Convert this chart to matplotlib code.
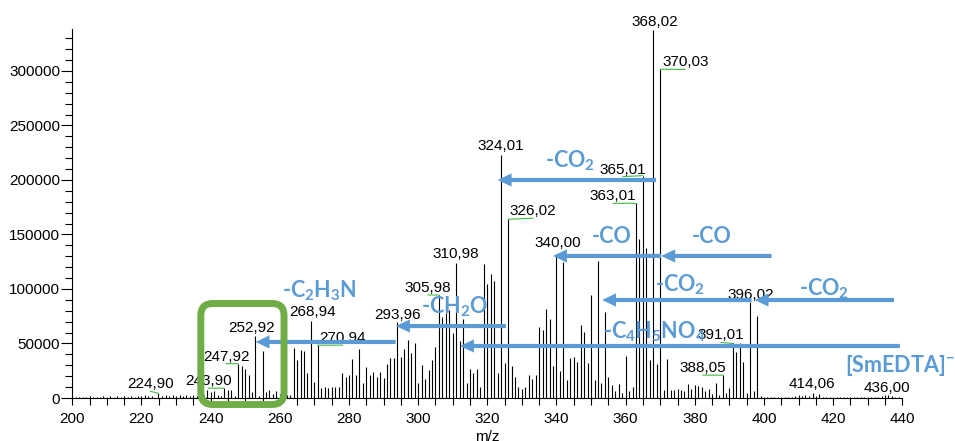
import matplotlib
matplotlib.use("Agg")
import matplotlib.pyplot as plt
from matplotlib.patches import FancyBboxPatch
from matplotlib.ticker import MultipleLocator

plt.rcParams['font.family'] = ['Liberation Sans', 'DejaVu Sans']
plt.rcParams['mathtext.fontset'] = 'custom'
plt.rcParams['mathtext.rm'] = 'Lato:bold'
plt.rcParams['mathtext.it'] = 'Lato:bold'
plt.rcParams['mathtext.bf'] = 'Lato:bold'

# peak list (m/z, intensity)
mz_low = [201, 202, 203, 204, 205, 206, 207, 208, 209, 210, 211, 212, 213, 214, 215,
          216, 217, 218, 219, 220, 221, 222, 223, 224.90, 226, 227, 228, 229, 230,
          231, 232, 233, 234, 235, 236, 237, 238]
int_low = [800, 600, 1200, 700, 1500, 900, 1300, 1000, 1800, 900, 1400, 1100, 2000, 1200, 1500,
           1000, 1700, 1300, 2200, 1400, 2500, 1600, 2000, 4300, 2000, 2800, 1600, 3200, 2200,
           2600, 1800, 2300, 1500, 2600, 1800, 3000, 2500]

mz_b = [239, 240, 241, 242, 243, 243.90, 245, 246, 247, 247.92, 249, 250, 251, 252, 252.92,
        254, 255, 256, 257, 258, 259, 260, 261, 262, 263, 264, 265, 266, 267, 268, 268.94,
        270, 270.94, 272, 273, 274, 275, 276, 277, 278, 279, 280, 281, 282, 283, 284, 285,
        286, 287, 288, 289, 290, 291, 292, 293, 293.96, 295, 296, 297, 298, 299]
int_b = [7000, 5500, 6400, 2500, 2000, 9000, 7600, 7000, 2000, 31500, 29000, 27000, 21000, 5500, 57000,
         2000, 43000, 5500, 7600, 4000, 6400, 4000, 10000, 2500, 3000, 45500, 35000, 44000, 43500, 23000, 70500,
         14500, 48500, 9000, 10000, 9500, 10000, 10000, 10000, 22600, 19600, 21000, 35800, 21000, 44600, 13500, 28700,
         21000, 23500, 19600, 23800, 18600, 30900, 36400, 37000, 70000, 38000, 44600, 53000, 41600, 50800]

mz_c = [300, 301, 302, 303, 304, 305, 305.98, 307, 308, 309, 310, 310.98, 312, 313, 314,
        315, 316, 317, 318, 319, 320, 321, 322, 323, 324.01, 325, 326.02, 327, 328, 329,
        330, 331, 332, 333, 334, 335, 336, 337, 338, 339, 340.00]
int_c = [14000, 30000, 17000, 25700, 35000, 47000, 94500, 74600, 77700, 80700, 60000, 123500, 52600, 72500, 13500,
         27000, 22600, 27000, 10400, 122600, 105000, 114000, 107000, 22600, 223000, 32400, 164000, 29000, 19600, 10400,
         8000, 10400, 21000, 17000, 21000, 65400, 62400, 82000, 72500, 29000, 132000]

mz_d = [341, 342, 343, 344, 345, 346, 347, 348, 349, 350, 351, 352, 353, 354, 355,
        356, 357, 358, 359, 360, 361, 362, 363.01, 364, 365.01, 366, 367, 368.02, 369, 370.03,
        371, 372, 373, 374, 375, 376, 377, 378, 379, 380, 381, 382, 383, 384, 385,
        386, 387, 388.05, 389, 390, 391.01, 392, 393, 394, 395, 396.02, 397, 398]
int_d = [24800, 125000, 16500, 37000, 38000, 33000, 67000, 61000, 32000, 94500, 16500, 126000, 13500, 78600, 19600,
         12000, 6000, 12500, 4500, 38500, 6000, 10400, 178600, 146000, 204000, 138000, 35000, 338000, 31000, 301500,
         7000, 36000, 7000, 7000, 8000, 7000, 6000, 13000, 8000, 12000, 11000, 10000, 6000, 8000, 4000,
         14000, 3000, 21000, 4500, 9000, 50000, 42000, 50000, 33000, 5000, 88000, 6000, 75000]

mz_high = [399, 400, 401, 402, 403, 404, 405, 406, 407, 408, 409, 410, 411, 412, 413, 414.06,
           415, 416, 417, 418, 419, 420, 421, 422, 423, 424, 425, 426, 427, 428, 429, 430,
           431, 432, 433, 434, 435, 436.00, 437, 438, 439]
int_high = [1500, 800, 600, 900, 700, 800, 600, 900, 700, 1000, 2200, 2600, 1800, 2500, 1500, 4500,
            1500, 3500, 1000, 800, 600, 700, 500, 600, 800, 600, 500, 700, 600, 500, 600, 700,
            500, 800, 1200, 1800, 2500, 3000, 1800, 1200, 800]

mz_all = mz_low + mz_b + mz_c + mz_d + mz_high
int_all = int_low + int_b + int_c + int_d + int_high
peaks = dict(zip(mz_all, int_all))

# labelled peaks and label offset (px right, px up) of the text baseline
label_mz = [224.90, 243.90, 247.92, 252.92, 268.94, 270.94, 293.96, 305.98, 310.98, 324.01,
            326.02, 340.00, 363.01, 365.01, 368.02, 370.03, 388.05, 391.01, 396.02, 414.06, 436.00]
label_off = [(-8, 5), (-16, 3), (-12, 3), (-4, 4), (2, 5), (25, 3), (0, 3), (-11, 3), (0, 5), (0, 5),
             (25, 4), (1, 7), (-23, 3), (-20, 2), (1, 4), (25, 3), (-20, 3), (-12, 4), (1, 3), (-1, 5), (-2, 3)]

# fragment losses: text, text position (m/z, intensity)
loss_text = ['-CO$_2$', '-CO', '-CO', '-CO$_2$', '-CO$_2$', '-CH$_2$O', '-C$_2$H$_3$N',
             '-C$_4$H$_5$NO$_4$', '[SmEDTA]$^{-}$']
loss_pos = [(336.7, 211900), (350.1, 142200), (379.0, 142200), (368.6, 98200), (410.1, 94500),
            (300.8, 78000), (260.5, 92700), (353.5, 55000), (423.4, 23900)]
# arrows: tail m/z, head m/z, intensity level
arrows = [(368.8, 323.0, 200000), (402.2, 370.3, 130300), (370.3, 339.0, 130300),
          (437.6, 397.3, 89900), (396.4, 353.2, 89900), (325.4, 293.6, 66000),
          (293.5, 253.0, 51400), (439.3, 312.1, 47700)]

blue = '#5B9BD5'
green = '#70AD47'
leader = '#3dbb3d'

fig = plt.figure(figsize=(9.55, 4.41), dpi=100)
ax = fig.add_axes([72.3 / 955, 43 / 441, 830 / 955, 369 / 441])

ax.vlines(mz_all, 0, int_all, color='black', lw=0.8)

ax.set_xlim(200, 440)
ax.set_ylim(0, 338500)
ax.spines['top'].set_visible(False)
ax.spines['right'].set_visible(False)
ax.spines['left'].set_linewidth(0.8)
ax.spines['bottom'].set_linewidth(0.8)
ax.xaxis.set_major_locator(MultipleLocator(20))
ax.xaxis.set_minor_locator(MultipleLocator(5))
ax.yaxis.set_major_locator(MultipleLocator(50000))
ax.yaxis.set_minor_locator(MultipleLocator(10000))
ax.tick_params(axis='x', which='both', length=5, width=0.8, labelsize=11, pad=5)
ax.tick_params(axis='y', which='major', length=7.7, width=0.8, labelsize=11, pad=1)
ax.tick_params(axis='y', which='minor', length=5, width=0.8)
ax.set_xlabel('m/z', fontsize=11, labelpad=3)

for m, (dx, dy) in zip(label_mz, label_off):
    txt = f'{m:.2f}'.replace('.', ',')
    arrow = None
    if abs(dx) > 5:
        arrow = dict(arrowstyle='-', color=leader, lw=0.8, shrinkA=0, shrinkB=0, relpos=(0.5, 0))
    ax.annotate(txt, xy=(m, peaks[m]), xytext=(dx * 0.72, dy * 0.72), textcoords='offset points',
                ha='center', va='baseline', fontsize=11, arrowprops=arrow, zorder=4)

for tail, head, lvl in arrows:
    ax.annotate('', xy=(head, lvl), xytext=(tail, lvl),
                arrowprops=dict(arrowstyle='simple,head_length=1.0,head_width=0.95,tail_width=0.3',
                                mutation_scale=10, fc=blue, ec='none', shrinkA=0, shrinkB=0),
                annotation_clip=False, zorder=6)

for t, (x, y) in zip(loss_text, loss_pos):
    ax.text(x, y, t, color=blue, fontsize=15.5, family='Lato', fontweight='bold',
            ha='left', va='baseline', clip_on=False, zorder=7)

box = FancyBboxPatch((237.16, -5960), 24.06, 92660, boxstyle='round,pad=0,rounding_size=3.47',
                     mutation_aspect=3170, fill=False, ec=green, lw=5, clip_on=False, zorder=8)
ax.add_patch(box)

fig.savefig('out.png', dpi=100)
